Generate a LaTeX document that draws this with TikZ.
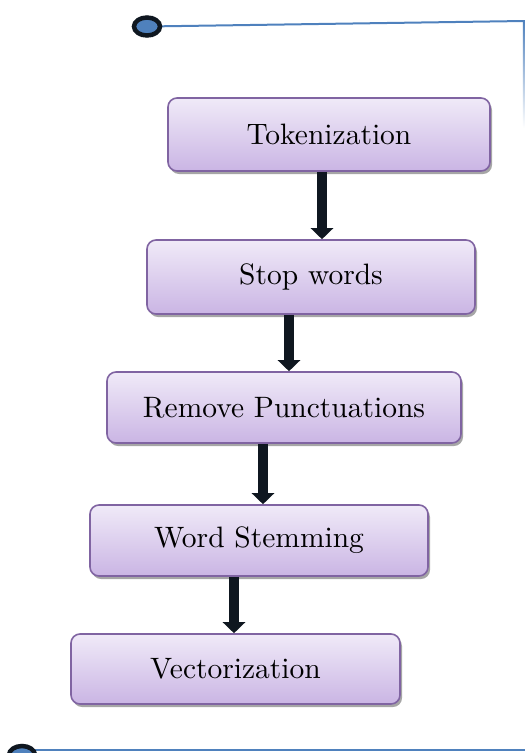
\documentclass[tikz,border=0pt]{standalone}
\usepackage{fontspec}
\setmainfont{lmroman10-regular}[Extension=.otf]
\usetikzlibrary{arrows.meta,shadows,shapes.geometric}
\definecolor{boxtop}{HTML}{F0EAF8}
\definecolor{boxbot}{HTML}{CAB5E4}
\definecolor{boxedge}{HTML}{8064A2}
\definecolor{lineblue}{HTML}{4F81BD}
\definecolor{arrowblack}{HTML}{0F1720}
\tikzset{
  stepbox/.style={draw=boxedge, line width=1.6pt, rounded corners=9pt,
    top color=boxtop, bottom color=boxbot, inner sep=0pt,
    font=\fontsize{29.5}{32}\selectfont,
    drop shadow={shadow xshift=2pt, shadow yshift=-3pt, fill=black, opacity=0.35}},
  flowarrow/.style={draw=arrowblack, line width=10pt,
    -{Triangle[length=11pt, width=22pt]}, shorten >=0pt},
  endcircle/.style={ellipse, draw=arrowblack, line width=4.5pt, fill=lineblue,
    minimum width=26pt, minimum height=18pt, inner sep=0pt},
  rule/.style={draw=lineblue, line width=2pt}
}
\begin{document}
\begin{tikzpicture}[x=1pt,y=-1pt]
\useasboundingbox (0,0) rectangle (525,753);
\node[stepbox, minimum width=322pt, minimum height=73pt] (t) at (329,134.5) {\raisebox{-1pt}{Tokenization}};
\node[stepbox, minimum width=328pt, minimum height=74pt] (s) at (311,277) {\raisebox{-2pt}{Stop words}};
\node[stepbox, minimum width=354pt, minimum height=71pt] (r) at (284,407.5) {\raisebox{-1pt}{Remove Punctuations}};
\node[stepbox, minimum width=338pt, minimum height=71pt] (w) at (259,540.5) {\raisebox{-1pt}{Word Stemming}};
\node[stepbox, minimum width=329pt, minimum height=70pt] (v) at (235.5,669) {\raisebox{-1pt}{Vectorization}};
\draw[flowarrow] (t.south -| 322,0) -- (s.north -| 322,0);
\draw[flowarrow] (s.south -| 289,0) -- (r.north -| 289,0);
\draw[flowarrow] (r.south -| 263,0) -- (w.north -| 263,0);
\draw[flowarrow] (w.south -| 234,0) -- (v.north -| 234,0);
\coordinate (tr) at (524,21);
\coordinate (br) at (525,749.5);
\draw[rule] (147,26.5) -- (tr);
\shade[top color=lineblue, bottom color=white] (522.8,20) rectangle (525,128);
\draw[rule] (22,749.5) -- (br);
\node[endcircle] (c1) at (147,26.5) {};
\node[endcircle] (c2) at (22,755) {};
\end{tikzpicture}
\end{document}
